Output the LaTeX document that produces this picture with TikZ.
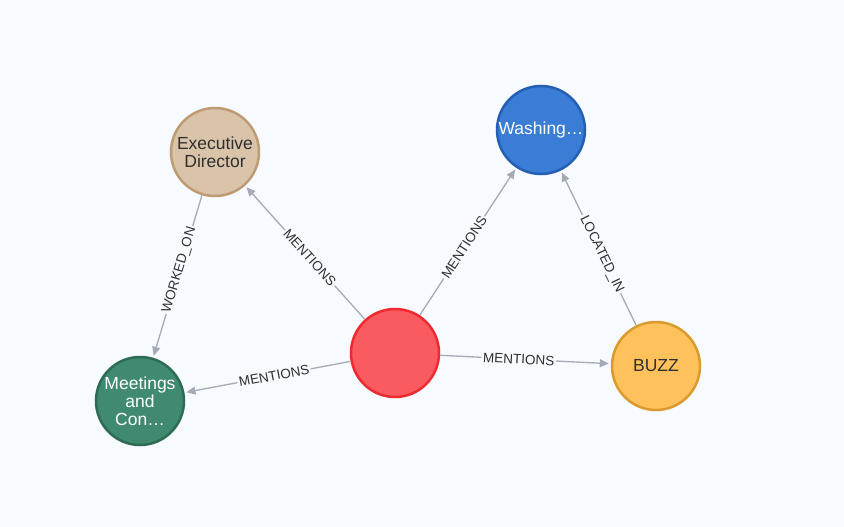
\documentclass[tikz,border=0pt]{standalone}
\usepackage{fontspec}
\setmainfont{Liberation Sans}
\usetikzlibrary{arrows.meta}

\definecolor{bgcol}{HTML}{F7FAFE}
\definecolor{edgegray}{HTML}{A5ABB6}
\definecolor{textdark}{HTML}{2F2F2F}
\definecolor{tanfill}{HTML}{D9C4AA}
\definecolor{tanline}{HTML}{BE9B73}
\definecolor{bluefill}{HTML}{3A7DD6}
\definecolor{blueline}{HTML}{245FB4}
\definecolor{redfill}{HTML}{F95B61}
\definecolor{redline}{HTML}{EE2A2F}
\definecolor{yellowfill}{HTML}{FFC15C}
\definecolor{yellowline}{HTML}{DA9A2E}
\definecolor{greenfill}{HTML}{3F8A70}
\definecolor{greenline}{HTML}{2D6B54}

\begin{document}
\begin{tikzpicture}[x=1pt, y=-1pt,
    entity/.style={circle, draw, line width=2.5pt, minimum size=88pt, inner sep=0pt,
        align=center, font=\fontsize{17.5}{18.2}\selectfont},
    rel/.style={draw=edgegray, line width=1.3pt, -{Triangle[length=9pt,width=8pt]},
        shorten >=2pt},
    rellabel/.style={pos=0.46, sloped, fill=bgcol, inner sep=1.5pt, text=textdark,
        font=\fontsize{13.5}{15}\selectfont}]
    \fill[bgcol] (0,0) rectangle (844,527);
    \useasboundingbox (0,0) rectangle (844,527);

    % entities
    \node[entity, fill=tanfill, draw=tanline, text=textdark] (director) at (215,152) {Executive\\Director};
    \node[entity, fill=bluefill, draw=blueline, text=white] (washing) at (541,130) {Washing\ldots};
    \node[entity, fill=redfill, draw=redline] (source) at (395,353) {};
    \node[entity, fill=yellowfill, draw=yellowline, text=textdark] (buzz) at (656,366) {BUZZ};
    \node[entity, fill=greenfill, draw=greenline, text=white] (meetings) at (140,401) {Meetings\\and\\Con\ldots};

    % relationships
    \draw[rel] (source) -- node[rellabel] {MENTIONS} (director);
    \draw[rel] (source) -- node[rellabel] {MENTIONS} (washing);
    \draw[rel] (source) -- node[rellabel] {MENTIONS} (buzz);
    \draw[rel] (source) -- node[rellabel] {MENTIONS} (meetings);
    \draw[rel] (director) -- node[rellabel] {WORKED\_ON} (meetings);
    \draw[rel] (buzz) -- node[rellabel] {LOCATED\_IN} (washing);
\end{tikzpicture}
\end{document}
